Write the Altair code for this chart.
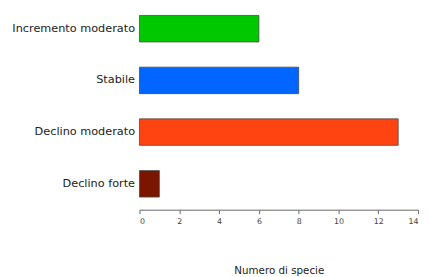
import altair as alt
import pandas as pd

categories = ["Incremento moderato", "Stabile", "Declino moderato", "Declino forte"]
values = [6, 8, 13, 1]
colors = ["#00c800", "#0066ff", "#ff4411", "#7a1500"]

df = pd.DataFrame({"categoria": categories, "numero": values, "colore": colors})

chart = alt.Chart(df).mark_bar(stroke="#4a4a4a", strokeWidth=1, strokeOpacity=0.8).encode(
    x=alt.X("numero:Q",
            scale=alt.Scale(domain=[0, 14], nice=False),
            axis=alt.Axis(title="Numero di specie", values=[0, 2, 4, 6, 8, 10, 12, 14],
                          grid=False, domainColor="#666", tickColor="#666", tickSize=4,
                          labelFontSize=8, labelColor="#444", labelFont="DejaVu Sans",
                          titleFont="DejaVu Sans", titleFontSize=10.5, titleFontWeight="normal",
                          titleColor="#222", titlePadding=41, labelPadding=4)),
    y=alt.Y("categoria:N", sort=categories,
            scale=alt.Scale(paddingInner=0.488, paddingOuter=0.17, align=0.28),
            axis=alt.Axis(title=None, domain=False, ticks=False, labelFontSize=11.5,
                          labelFont="DejaVu Sans", labelColor="#222", labelPadding=5)),
    color=alt.Color("colore:N", scale=None, legend=None),
).properties(
    width=284, height=203,
    background="white",
    autosize=alt.AutoSizeParams(type="none"),
    padding={"left": 134, "top": 0, "right": 5, "bottom": 66},
).configure_view(strokeWidth=0, stroke="transparent")

chart.save("out.html", embed_options={"renderer": "svg", "actions": False})
